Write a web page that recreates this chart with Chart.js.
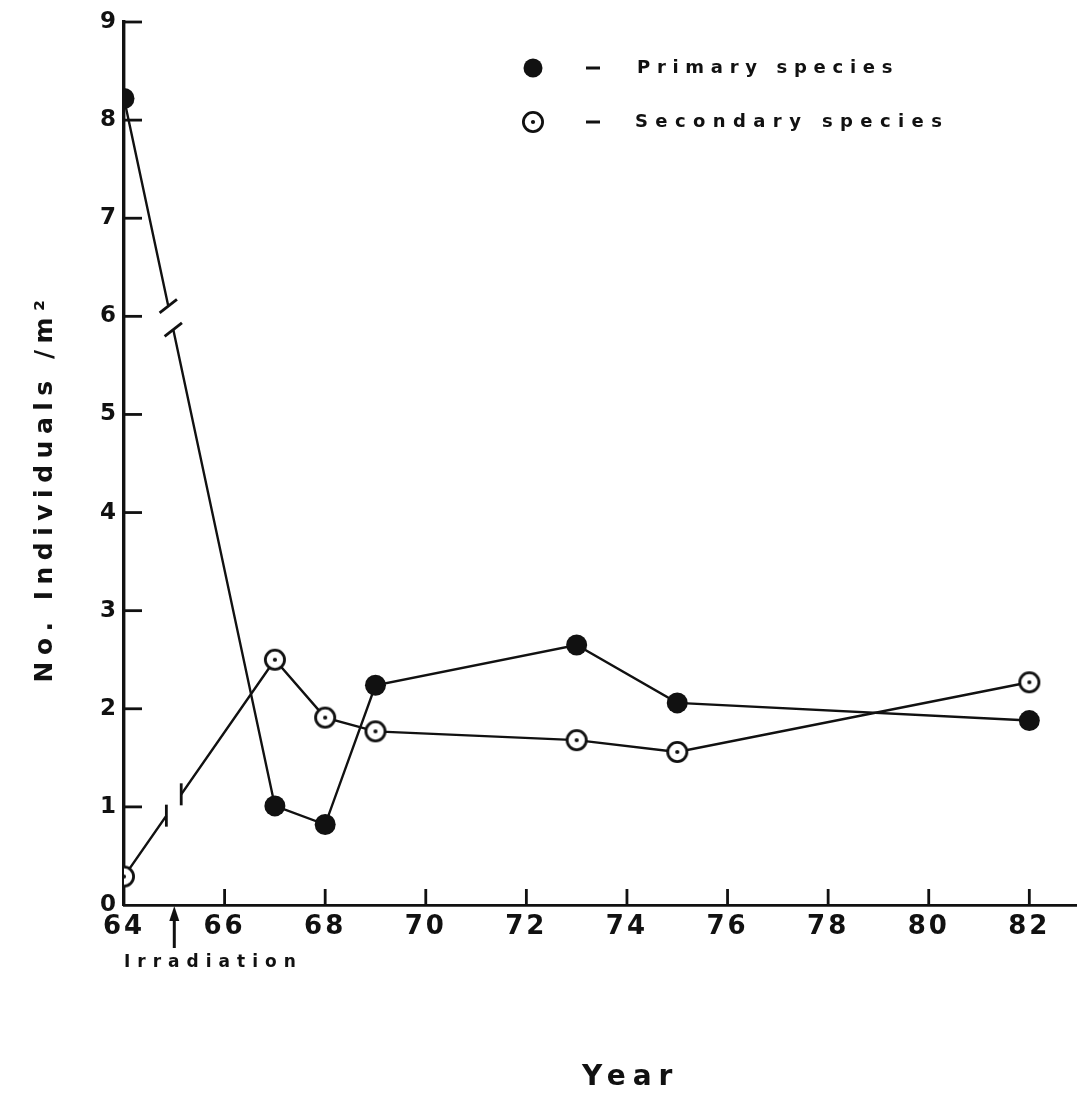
<!DOCTYPE html>
<html>
<head>
<meta charset="utf-8">
<script src="https://cdn.jsdelivr.net/npm/chart.js@4.4.1/dist/chart.umd.min.js"></script>
<style>
  html, body { margin: 0; padding: 0; background: #fff; }
  #wrap { width: 1089px; height: 1099px; }
</style>
</head>
<body>
<div id="wrap"><canvas id="c" width="1089" height="1099"></canvas></div>
<script>
// Survey years and densities (individuals per square metre)
const years = [64, 67, 68, 69, 73, 75, 82];
const primaryValues = [8.22, 1.01, 0.82, 2.24, 2.65, 2.06, 1.88];
const secondaryValues = [0.29, 2.50, 1.91, 1.77, 1.68, 1.56, 2.27];

const seriesNames = ['Primary species', 'Secondary species'];
const xTickValues = [64, 66, 68, 70, 72, 74, 76, 78, 80, 82];
const yTickValues = [0, 1, 2, 3, 4, 5, 6, 7, 8, 9];
const xTitle = 'Year';
const yTitle = 'No. Individuals /m\u00B2';
const eventLabel = 'Irradiation';
const eventYear = 65;

const FONT = '"DejaVu Sans", sans-serif';
const INK = '#111';

// Open circle with a centre dot, used for the secondary series
function dottedCircle() {
  const c = document.createElement('canvas');
  c.width = 28; c.height = 28;
  const g = c.getContext('2d');
  g.beginPath(); g.arc(14, 14, 9.6, 0, Math.PI * 2);
  g.fillStyle = '#fff'; g.fill();
  g.lineWidth = 2.8; g.strokeStyle = INK; g.stroke();
  g.beginPath(); g.arc(14, 14, 2.1, 0, Math.PI * 2);
  g.fillStyle = INK; g.fill();
  return c;
}
const secondaryMarker = dottedCircle();

const toPoints = vals => years.map((x, i) => ({ x, y: vals[i] }));

// Broken-line symbols drawn across the first segment of each series
const breaks = [
  { ds: 0, seg: 0, t: 0.31, gap: 24, cap: 22, angle: -38 },
  { ds: 1, seg: 0, t: 0.33, gap: 26, cap: 22, angle: 90 }
];

const decorations = {
  id: 'decorations',
  beforeDraw(chart) {
    chart.ctx.letterSpacing = '3px';
  },
  afterDatasetsDraw(chart) {
    const ctx = chart.ctx;
    ctx.save();
    ctx.lineCap = 'butt';
    breaks.forEach(b => {
      const pts = chart.getDatasetMeta(b.ds).data;
      const p0 = pts[b.seg], p1 = pts[b.seg + 1];
      const dx = p1.x - p0.x, dy = p1.y - p0.y;
      const len = Math.hypot(dx, dy);
      const ux = dx / len, uy = dy / len;
      const cx = p0.x + dx * b.t, cy = p0.y + dy * b.t;
      const ax = cx - ux * b.gap / 2, ay = cy - uy * b.gap / 2;
      const bx = cx + ux * b.gap / 2, by = cy + uy * b.gap / 2;
      ctx.strokeStyle = '#fff'; ctx.lineWidth = 7;
      ctx.beginPath(); ctx.moveTo(ax, ay); ctx.lineTo(bx, by); ctx.stroke();
      const a = b.angle * Math.PI / 180;
      const hx = Math.cos(a) * b.cap / 2, hy = Math.sin(a) * b.cap / 2;
      ctx.strokeStyle = INK; ctx.lineWidth = 2.8;
      [[ax, ay], [bx, by]].forEach(([x, y]) => {
        ctx.beginPath(); ctx.moveTo(x - hx, y - hy); ctx.lineTo(x + hx, y + hy); ctx.stroke();
      });
    });
    ctx.restore();
  },
  afterDraw(chart) {
    const ctx = chart.ctx;
    const xs = chart.scales.x, ys = chart.scales.y;
    const area = chart.chartArea;
    ctx.save();
    ctx.strokeStyle = INK; ctx.fillStyle = INK;

    // inward tick marks
    ctx.lineWidth = 2.8;
    xTickValues.forEach(v => {
      if (v === xs.min) return;
      const px = xs.getPixelForValue(v);
      ctx.beginPath(); ctx.moveTo(px, area.bottom); ctx.lineTo(px, area.bottom - 16); ctx.stroke();
    });
    yTickValues.forEach(v => {
      if (v === ys.min) return;
      const py = ys.getPixelForValue(v);
      ctx.beginPath(); ctx.moveTo(area.left, py); ctx.lineTo(area.left + 18, py); ctx.stroke();
    });

    // event arrow below the axis
    const ex = xs.getPixelForValue(eventYear);
    const tip = area.bottom + 1;
    ctx.beginPath();
    ctx.moveTo(ex, tip); ctx.lineTo(ex - 5, tip + 15); ctx.lineTo(ex + 5, tip + 15); ctx.closePath();
    ctx.fill();
    ctx.lineWidth = 3;
    ctx.beginPath(); ctx.moveTo(ex, tip + 12); ctx.lineTo(ex, tip + 42); ctx.stroke();

    ctx.letterSpacing = '7px';
    ctx.font = 'bold 17px ' + FONT;
    ctx.textAlign = 'left'; ctx.textBaseline = 'middle';
    ctx.fillText(eventLabel, xs.getPixelForValue(xs.min), area.bottom + 58);

    // axis titles
    ctx.letterSpacing = '7px';
    ctx.font = 'bold 28px ' + FONT;
    ctx.textAlign = 'left';
    ctx.fillText(xTitle, 582, 1078);

    ctx.save();
    ctx.translate(45, 488);
    ctx.rotate(-Math.PI / 2);
    ctx.letterSpacing = '6.5px';
    ctx.font = 'bold 25px ' + FONT;
    ctx.textAlign = 'center';
    ctx.fillText(yTitle, 0, 0);
    ctx.restore();

    // legend
    const lx = 533, rows = [68, 122];
    ctx.beginPath(); ctx.arc(lx, rows[0], 9.5, 0, Math.PI * 2); ctx.fill();
    ctx.drawImage(secondaryMarker, lx - 14, rows[1] - 14);
    ctx.lineWidth = 3;
    rows.forEach(r => {
      ctx.beginPath(); ctx.moveTo(586, r); ctx.lineTo(600, r); ctx.stroke();
    });
    ctx.font = 'bold 18px ' + FONT;
    ctx.textAlign = 'left';
    ctx.letterSpacing = '6.7px';
    ctx.fillText(seriesNames[0], 637, rows[0]);
    ctx.letterSpacing = '7.4px';
    ctx.fillText(seriesNames[1], 635, rows[1]);
    ctx.restore();
  }
};

new Chart(document.getElementById('c'), {
  type: 'scatter',
  data: {
    datasets: [
      {
        label: seriesNames[0],
        data: toPoints(primaryValues),
        showLine: true,
        borderColor: INK,
        borderWidth: 2.4,
        pointStyle: 'circle',
        pointRadius: 10.5,
        pointBackgroundColor: INK,
        pointBorderColor: INK,
        pointBorderWidth: 0,
        tension: 0
      },
      {
        label: seriesNames[1],
        data: toPoints(secondaryValues),
        showLine: true,
        borderColor: INK,
        borderWidth: 2.4,
        pointStyle: secondaryMarker,
        pointRadius: 10,
        tension: 0
      }
    ]
  },
  options: {
    responsive: false,
    animation: false,
    devicePixelRatio: 1,
    layout: { padding: { left: 0, top: 22, right: 4, bottom: 0 } },
    plugins: { legend: { display: false }, tooltip: { enabled: false } },
    scales: {
      x: {
        type: 'linear',
        min: 64,
        max: 82.94,
        afterFit(s) { s.height = 194; },
        afterBuildTicks(s) { s.ticks = xTickValues.map(v => ({ value: v })); },
        ticks: {
          font: { family: FONT, size: 26, weight: 'bold' },
          color: INK,
          padding: 7,
          maxRotation: 0,
          autoSkip: false
        },
        grid: { drawOnChartArea: false, drawTicks: false },
        border: { display: true, color: INK, width: 2.8 }
      },
      y: {
        type: 'linear',
        min: 0,
        max: 9,
        afterFit(s) { s.width = 124; },
        afterBuildTicks(s) { s.ticks = yTickValues.map(v => ({ value: v })); },
        ticks: {
          font: { family: FONT, size: 23, weight: 'bold' },
          color: INK,
          padding: 5
        },
        grid: { drawOnChartArea: false, drawTicks: false },
        border: { display: true, color: INK, width: 3.4 }
      }
    }
  },
  plugins: [decorations]
});
</script>
</body>
</html>
